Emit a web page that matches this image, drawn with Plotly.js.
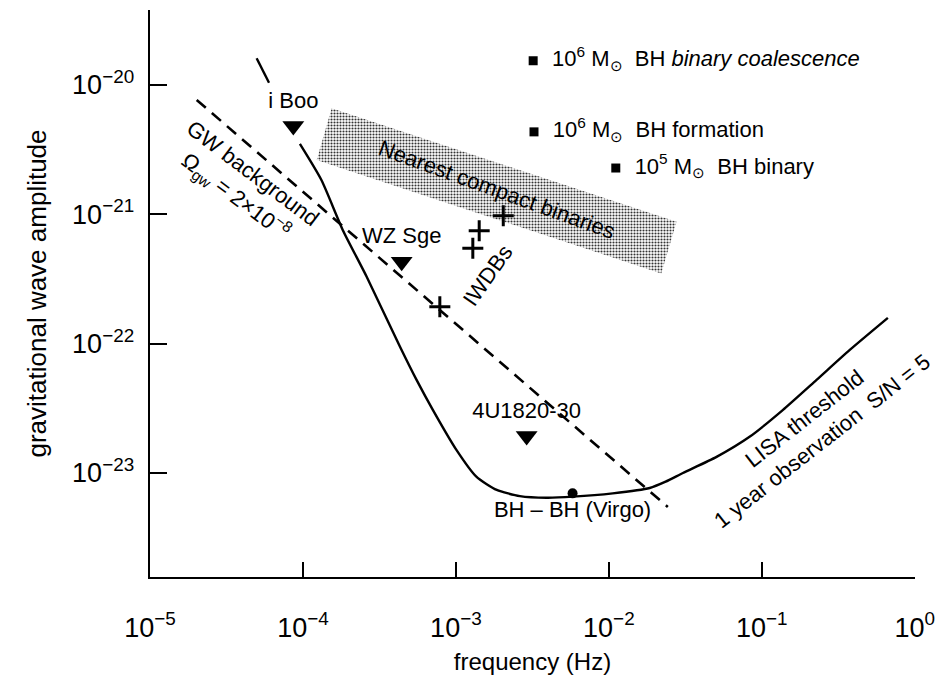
<!DOCTYPE html>
<html><head><meta charset="utf-8">
<script src="https://cdn.plot.ly/plotly-3.0.1.min.js"></script>
<style>html,body{margin:0;padding:0;background:#fff}</style>
</head><body><div id="chart" style="width:937px;height:689px"></div>
<script>
// ---------------- data (frequency in Hz, gravitational wave amplitude) ----------------
// LISA threshold curve (null = gap hidden behind the "i Boo" label)
const lisaFreq = [4.98e-5, 6.0e-5, null, 9.55e-5, 1.32e-4, 1.82e-4, 2.61e-4, 4.31e-4, 5.53e-4, 7.08e-4,
                  1.01e-3, 1.36e-3, 1.85e-3, 2.62e-3, 3.92e-3, 5.82e-3, 1.06e-2, 1.85e-2, 2.35e-2, 3.05e-2,
                  5.06e-2, 8.36e-2, 0.137, 0.228, 0.376, 0.667];
const lisaAmp  = [1.61e-20, 1.04e-20, null, 3.50e-21, 1.84e-21, 7.57e-22, 3.29e-22, 9.46e-23, 5.24e-23, 3.06e-23,
                  1.50e-23, 9.35e-24, 7.38e-24, 6.62e-24, 6.43e-24, 6.55e-24, 6.95e-24, 7.64e-24, 8.55e-24, 9.98e-24,
                  1.33e-23, 1.91e-23, 3.06e-23, 5.24e-23, 8.93e-23, 1.58e-22];

// GW background, Omega_gw = 2e-8 (dashed)
const gwFreq = [2.02e-5, 2.43e-2];
const gwAmp  = [7.66e-21, 5.45e-24];

// "Nearest compact binaries" band (corners)
const bandFreq = [1.54e-4, 2.77e-2, 2.20e-2, 1.23e-4, 1.54e-4];
const bandAmp  = [6.61e-21, 8.77e-22, 3.49e-22, 2.63e-21, 6.61e-21];

// Known binaries (triangles)
const starNames = ['i Boo', 'WZ Sge', '4U1820-30'];
const starFreq  = [8.65e-5, 4.42e-4, 2.90e-3];
const starAmp   = [4.82e-21, 4.30e-22, 1.93e-23];

// IWDBs (crosses)
const iwdbFreq = [7.85e-4, 1.29e-3, 1.42e-3, 2.04e-3];
const iwdbAmp  = [1.93e-22, 5.46e-22, 7.46e-22, 9.75e-22];

// Massive black hole sources (squares)
const bhNames = ['10<sup>6</sup> M<sub>⊙</sub>  BH <i>binary coalescence</i>',
                 '10<sup>6</sup> M<sub>⊙</sub>  BH formation',
                 '10<sup>5</sup> M<sub>⊙</sub>  BH binary'];
const bhFreq  = [3.20e-3, 3.24e-3, 1.11e-2];
const bhAmp   = [1.54e-20, 4.34e-21, 2.28e-21];

// BH - BH (Virgo)
const virgoName = ['BH – BH (Virgo)'];
const virgoFreq = [5.79e-3];
const virgoAmp  = [6.95e-24];

// axis ticks
const xTickVals = [1e-5, 1e-4, 1e-3, 1e-2, 1e-1, 1];
const xTickText = ['10<sup>−5</sup>', '10<sup>−4</sup>', '10<sup>−3</sup>', '10<sup>−2</sup>', '10<sup>−1</sup>', '10<sup>0</sup>'];
const yTickVals = [1e-23, 1e-22, 1e-21, 1e-20];
const yTickText = ['10<sup>−23</sup>', '10<sup>−22</sup>', '10<sup>−21</sup>', '10<sup>−20</sup>'];

// ---------------- chart ----------------
const FONT = 'Liberation Sans, Arial, Helvetica, sans-serif';

const traces = [
  { x: bandFreq, y: bandAmp, mode: 'lines', fill: 'toself', line: {width: 0, color: 'rgba(0,0,0,0)'},
    fillcolor: '#b0b0b0',
    fillpattern: {shape: '.', fgcolor: '#333', bgcolor: '#ffffff', size: 3, solidity: 0.4},
    hoverinfo: 'skip', showlegend: false },
  { x: gwFreq, y: gwAmp, mode: 'lines', line: {color: '#000', width: 2.6, dash: '12px,8px'},
    showlegend: false },
  { x: lisaFreq, y: lisaAmp, mode: 'lines', line: {color: '#000', width: 2.4, shape: 'spline', smoothing: 0.6},
    connectgaps: false, showlegend: false },
  { x: starFreq, y: starAmp, mode: 'markers+text', text: starNames, textposition: 'top center',
    textfont: {family: FONT, size: 22, color: '#000'},
    marker: {symbol: 'triangle-down', size: 19, color: '#000'}, cliponaxis: false, showlegend: false },
  { x: iwdbFreq, y: iwdbAmp, mode: 'markers',
    marker: {symbol: 'cross-thin', size: 15, line: {color: '#000', width: 3}}, showlegend: false },
  { x: bhFreq, y: bhAmp, mode: 'markers+text', text: bhNames.map(t => '  ' + t), textposition: 'middle right',
    textfont: {family: FONT, size: 22, color: '#000'},
    marker: {symbol: 'square', size: 9, color: '#000'}, cliponaxis: false, showlegend: false },
  { x: virgoFreq, y: virgoAmp, mode: 'markers+text', text: virgoName, textposition: 'bottom center',
    textfont: {family: FONT, size: 22, color: '#000'},
    marker: {symbol: 'circle', size: 10, color: '#000'}, cliponaxis: false, showlegend: false }
];

const ann = (x, y, text, angle) => ({
  x: x, y: y, xref: 'x', yref: 'y', text: text, textangle: angle, showarrow: false,
  font: {family: FONT, size: 22, color: '#000'}, xanchor: 'center', yanchor: 'middle'
});

const layout = {
  width: 937, height: 689,
  margin: {l: 150, r: 22, t: 10, b: 112},
  paper_bgcolor: '#fff', plot_bgcolor: '#fff',
  showlegend: false,
  font: {family: FONT, color: '#000'},
  xaxis: {
    type: 'log', range: [-5, 0.0015], showgrid: false, zeroline: false,
    showline: true, linecolor: '#000', linewidth: 2.4,
    ticks: 'inside', ticklen: 15, tickwidth: 2.2, tickcolor: '#000',
    tickvals: xTickVals, ticktext: xTickText,
    tickfont: {family: FONT, size: 27, color: '#000'},
    ticklabelstandoff: 25,
    title: {text: 'frequency (Hz)', font: {family: FONT, size: 24, color: '#000'}, standoff: 12}
  },
  yaxis: {
    type: 'log', range: [-23.805, -19.42], showgrid: false, zeroline: false,
    showline: true, linecolor: '#000', linewidth: 2.4,
    ticks: 'inside', ticklen: 17, tickwidth: 2.2, tickcolor: '#000',
    tickvals: yTickVals, ticktext: yTickText,
    tickfont: {family: FONT, size: 27, color: '#000'},
    ticklabelstandoff: 8,
    title: {text: 'gravitational wave amplitude', font: {family: FONT, size: 26, color: '#000'}, standoff: 18}
  },
  annotations: [
    ann(-2.734, -20.812, 'Nearest compact binaries', 20),
    ann(-2.791, -21.477, 'IWDBs', -55),
    ann(-4.386, -20.781, 'GW background<br>Ω<sub>gw</sub> = 2×10<sup>−8</sup>', 37),
    ann(-0.662, -22.67, 'LISA threshold<br>1 year observation  S/N = 5', -38)
  ]
};

Plotly.newPlot('chart', traces, layout, {displayModeBar: false, staticPlot: true});
</script>
</body></html>
